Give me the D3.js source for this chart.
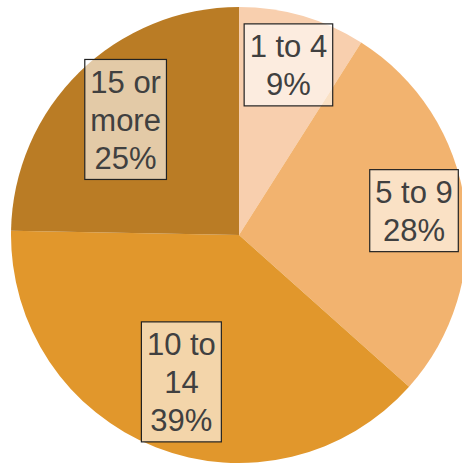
<!DOCTYPE html>
<html>
<head>
<meta charset="utf-8">
<script src="https://cdn.jsdelivr.net/npm/d3@7"></script>
<style>
  html, body { margin: 0; padding: 0; background: #fff; overflow: hidden; }
  svg { display: block; }
</style>
</head>
<body>
<svg id="chart" width="462" height="464"></svg>
<script>
// ---- data ----
const categories = ["1 to 4", "5 to 9", "10 to 14", "15 or more"];
const values = [9.0, 27.6, 38.7, 24.7];
const labelLines = [["1 to 4", "9%"], ["5 to 9", "28%"], ["10 to", "14", "39%"], ["15 or", "more", "25%"]];
const colors = ["#F8CFAE", "#F2B36F", "#E1972C", "#BA7C25"];

// ---- layout ----
const W = 462, H = 464;
const cx = 239, cy = 235, R = 228;
const labelRadiusFrac = [0.777, 0.775, 0.692, 0.71];
const fontSize = 31, lineH = 38, padX = 5.5, padY = 3;

const svg = d3.select("#chart");
const g = svg.append("g").attr("transform", `translate(${cx},${cy})`);

const data = categories.map((c, i) => ({ cat: c, value: values[i], lines: labelLines[i], color: colors[i], lr: labelRadiusFrac[i] }));

const pie = d3.pie().value(d => d.value).sort(null).startAngle(0).endAngle(2 * Math.PI);
const arcs = pie(data);
const arc = d3.arc().innerRadius(0).outerRadius(R);

g.selectAll("path.slice").data(arcs).join("path")
  .attr("class", "slice")
  .attr("d", arc)
  .attr("fill", d => d.data.color);

const labels = g.selectAll("g.lab").data(arcs).join("g")
  .attr("class", "lab")
  .attr("transform", d => {
    const r = d.data.lr * R;
    const a = (d.startAngle + d.endAngle) / 2;
    return `translate(${r * Math.sin(a)},${-r * Math.cos(a)})`;
  });

labels.each(function(d) {
  const sel = d3.select(this);
  const n = d.data.lines.length;
  const rect = sel.append("rect");
  const text = sel.append("text")
    .attr("font-family", "Liberation Sans, Arial, Helvetica, sans-serif")
    .attr("font-size", fontSize)
    .attr("fill", "#404040")
    .attr("text-anchor", "middle");
  d.data.lines.forEach((ln, i) => {
    text.append("tspan")
      .attr("x", 0)
      .attr("y", (i - (n - 1) / 2) * lineH + fontSize * 0.36)
      .text(ln);
  });
  let maxW = 0;
  text.selectAll("tspan").each(function() { maxW = Math.max(maxW, this.getComputedTextLength()); });
  const bw = maxW + 2 * padX;
  const bh = n * lineH + 2 * padY;
  rect.attr("x", -bw / 2).attr("y", -bh / 2)
    .attr("width", bw).attr("height", bh)
    .attr("fill", "#fff").attr("fill-opacity", 0.6)
    .attr("stroke", "#222").attr("stroke-width", 1.2);
});
</script>
</body>
</html>
